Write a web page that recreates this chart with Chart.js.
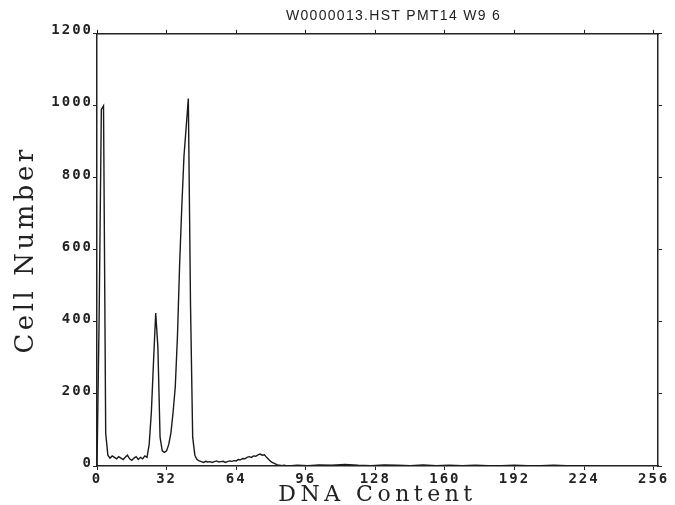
<!DOCTYPE html>
<html>
<head>
<meta charset="utf-8">
<script src="https://cdn.jsdelivr.net/npm/chart.js@4/dist/chart.umd.min.js"></script>
<style>
  html, body { margin: 0; padding: 0; background: #fff; }
  canvas { display: block; }
</style>
</head>
<body>
<canvas id="histChart" width="675" height="505"></canvas>
<script>
// DNA histogram, channels 0..88 one value per channel
var channelCounts = [
  0, 420, 990, 1000, 90, 30, 22, 28, 24, 20,
  26, 22, 18, 24, 30, 20, 16, 22, 26, 18,
  24, 20, 28, 24, 60, 150, 290, 425, 330, 80,
  42, 38, 42, 60, 92, 150, 220, 360, 560, 720,
  860, 940, 1020, 450, 80, 30, 18, 14, 12, 10,
  13, 11, 12, 10, 12, 14, 11, 12, 13, 10,
  12, 14, 13, 15, 14, 18, 17, 21, 20, 24,
  26, 24, 28, 27, 31, 33, 30, 31, 24, 18,
  12, 9, 6, 3, 2, 1, 2, 1, 0
];
// flat tail, read every few channels
var tailChannels = [92, 97, 102, 108, 114, 120, 126, 132, 138, 144, 150, 156,
  162, 168, 174, 180, 186, 192, 198, 204, 210, 216, 222, 228];
var tailCounts = [2, 1, 3, 2, 4, 2, 1, 3, 2, 1, 3, 1,
  2, 1, 2, 1, 1, 2, 1, 1, 2, 1, 1, 0];

var xTicks = [0, 32, 64, 96, 128, 160, 192, 224, 256];
var yTicks = [0, 200, 400, 600, 800, 1000, 1200];

var chartTitle = 'W0000013.HST PMT14 W9 6';
var xTitle = 'DNA Content';
var yTitle = 'Cell Number';

var points = [];
channelCounts.forEach(function(v, i) { points.push({ x: i, y: v }); });
tailChannels.forEach(function(c, i) { points.push({ x: c, y: tailCounts[i] }); });

var ink = '#222';

// wrap a draw method so its text gets letter spacing (plotter fonts are wide)
function spaced(obj, method, px, dx) {
  if (!obj || obj[method]._spaced) return;
  var orig = obj[method];
  obj[method] = function() {
    var ctx = this.ctx;
    ctx.save();
    ctx.letterSpacing = px + 'px';
    if (dx) ctx.translate(dx, 0);
    orig.apply(this, arguments);
    ctx.restore();
  };
  obj[method]._spaced = true;
}

var spacingPlugin = {
  id: 'spacing',
  beforeDraw: function(chart) {
    spaced(chart.scales.x, 'drawLabels', 2);
    spaced(chart.scales.x, 'drawTitle', 4.5);
    spaced(chart.scales.y, 'drawLabels', 2);
    spaced(chart.scales.y, 'drawTitle', 3.5);
    spaced(chart.titleBlock, 'draw', 1.3, 16);
  }
};

function fixedTicks(list) {
  return function(scale) {
    scale.ticks = list.map(function(v) { return { value: v }; });
  };
}

function plain(v) { return String(v); }

var tickFont = { family: 'DejaVu Sans Mono', size: 14, weight: 'bold' };
var edge = { display: true, color: ink, width: 1.5 };

new Chart(document.getElementById('histChart'), {
  type: 'line',
  data: {
    datasets: [{
      data: points,
      borderColor: '#1a1a1a',
      borderWidth: 1.4,
      pointRadius: 0,
      tension: 0,
      fill: false
    }]
  },
  options: {
    responsive: false,
    animation: false,
    layout: { padding: { left: 0, right: 13, top: 0, bottom: 0 } },
    plugins: {
      legend: { display: false },
      tooltip: { enabled: false },
      title: {
        display: true,
        text: chartTitle,
        fullSize: false,
        color: ink,
        font: { family: 'Liberation Sans', size: 14, weight: 'normal', lineHeight: 1.2 },
        padding: { top: 8, bottom: 5 }
      }
    },
    scales: {
      x: {
        type: 'linear',
        position: 'bottom',
        min: 0,
        max: 258,
        afterBuildTicks: fixedTicks(xTicks),
        afterFit: function(s) { s.height = 39; },
        border: edge,
        grid: { drawOnChartArea: false, tickLength: 4, color: ink },
        ticks: { color: ink, font: tickFont, padding: 1, maxRotation: 0, autoSkip: false, callback: plain },
        title: {
          display: true,
          text: xTitle,
          color: ink,
          font: { family: 'DejaVu Serif', size: 22, lineHeight: 1 },
          padding: { top: 0, bottom: -1 }
        }
      },
      x2: {
        type: 'linear',
        position: 'top',
        min: 0,
        max: 258,
        afterBuildTicks: fixedTicks(xTicks),
        afterFit: function(s) { s.height = 4; },
        border: edge,
        grid: { drawOnChartArea: false, tickLength: 4, color: ink },
        ticks: { display: false }
      },
      y: {
        type: 'linear',
        position: 'left',
        min: 0,
        max: 1200,
        afterBuildTicks: fixedTicks(yTicks),
        afterFit: function(s) { s.width = 97; },
        border: edge,
        grid: { drawOnChartArea: false, tickLength: 4, color: ink },
        ticks: { color: ink, font: tickFont, padding: 0, labelOffset: -3, callback: plain },
        title: {
          display: true,
          text: yTitle,
          color: ink,
          font: { family: 'DejaVu Serif', size: 26, lineHeight: 1 },
          padding: { top: 13, bottom: 0 }
        }
      },
      y2: {
        type: 'linear',
        position: 'right',
        min: 0,
        max: 1200,
        afterBuildTicks: fixedTicks(yTicks),
        afterFit: function(s) { s.width = 4; },
        border: edge,
        grid: { drawOnChartArea: false, tickLength: 4, color: ink },
        ticks: { display: false }
      }
    }
  },
  plugins: [spacingPlugin]
});
</script>
</body>
</html>
